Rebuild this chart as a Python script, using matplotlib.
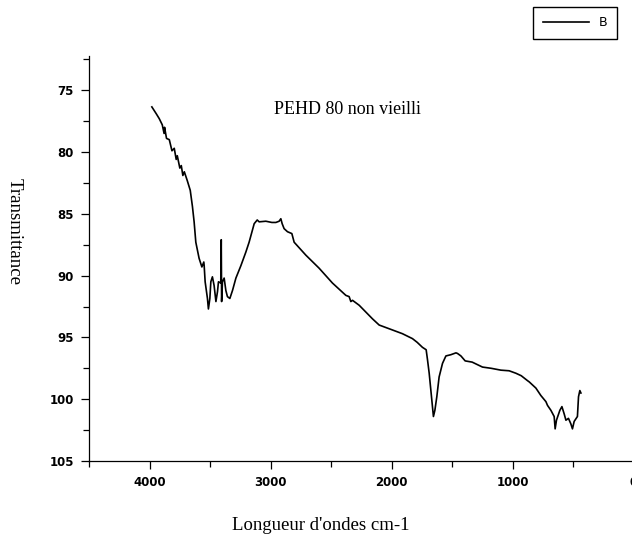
import matplotlib
matplotlib.use("Agg")
import matplotlib.pyplot as plt
from matplotlib.ticker import MultipleLocator

# Wavenumber (cm-1) and transmittance
wavenumber = [3981, 3945, 3920, 3895, 3880, 3876, 3860, 3837, 3815, 3796, 3780, 3771, 3750,
              3738, 3725, 3713, 3689, 3664, 3646, 3632, 3618, 3591, 3568, 3552, 3549,
              3541, 3522, 3514, 3502, 3494, 3481, 3467, 3452, 3439, 3431, 3412, 3408,
              3405, 3398, 3384, 3370, 3357, 3337, 3315, 3287, 3246, 3205, 3178, 3136,
              3111, 3095, 3040, 2990, 2957, 2930, 2916, 2905, 2889, 2861, 2825, 2806,
              2709, 2600, 2490, 2379, 2352, 2338, 2324, 2269, 2159, 2104, 1994, 1912,
              1829, 1790, 1747, 1716, 1705, 1691, 1672, 1656, 1644, 1628, 1609, 1581,
              1553, 1512, 1470, 1457, 1429, 1394, 1336, 1251, 1179, 1099, 1031, 975,
              931, 879, 865, 810, 769, 727, 714, 686, 659, 651, 640, 612, 595, 576, 562,
              541, 521, 508, 494, 467, 458, 447, 438]
transmittance = [76.35, 76.9, 77.3, 77.8, 78.5, 78.0, 78.9, 79.0, 79.9, 79.7, 80.6, 80.3, 81.3,
                 81.1, 81.9, 81.6, 82.3, 83.1, 84.4, 85.65, 87.3, 88.6, 89.3, 88.9, 89.2,
                 90.5, 91.85, 92.7, 91.85, 90.5, 90.1, 90.8, 92.1, 91.3, 90.5, 90.6, 87.1,
                 92.1, 90.5, 90.2, 91.2, 91.7, 91.85, 91.2, 90.2, 89.2, 88.1, 87.3, 85.8,
                 85.5, 85.65, 85.6, 85.7, 85.7, 85.6, 85.4, 85.8, 86.2, 86.45, 86.6, 87.3,
                 88.35, 89.4, 90.6, 91.6, 91.7, 92.1, 92.0, 92.4, 93.5, 94.0, 94.4, 94.7,
                 95.1, 95.4, 95.8, 96.0, 96.8, 97.9, 99.8, 101.4, 100.9, 99.8, 98.2, 97.1,
                 96.5, 96.4, 96.25, 96.3, 96.5, 96.9, 97.0, 97.4, 97.5, 97.65, 97.7, 97.9,
                 98.1, 98.5, 98.6, 99.1, 99.7, 100.2, 100.5, 100.9, 101.4, 102.4, 101.7,
                 100.9, 100.6, 101.2, 101.7, 101.55, 102.0, 102.4, 101.8, 101.4, 99.8,
                 99.3, 99.5]

series_name = "B"
title_text = "PEHD 80 non vieilli"
x_label = "Longueur d'ondes cm-1"
y_label = "Transmittance"
x_ticks = [4000, 3000, 2000, 1000, 0]
y_ticks = [75, 80, 85, 90, 95, 100, 105]

W, H = 632, 536
fig = plt.figure(figsize=(W / 100, H / 100), dpi=100)
ax = fig.add_axes([89 / W, (H - 461) / H, (636.4 - 89) / W, (461 - 55.6) / H])

line, = ax.plot(wavenumber, transmittance, color="black", lw=1.2, label=series_name)

ax.set_xlim(4500, -20)
ax.set_ylim(105, 72.2)
ax.set_xticks(x_ticks)
ax.set_yticks(y_ticks)
ax.xaxis.set_minor_locator(MultipleLocator(500))
ax.yaxis.set_minor_locator(MultipleLocator(2.5))

for s in ["top", "right"]:
    ax.spines[s].set_visible(False)
for s in ["left", "bottom"]:
    ax.spines[s].set_linewidth(0.9)

ax.tick_params(which="major", direction="out", length=6, width=0.9, pad=5)
ax.tick_params(which="minor", direction="out", length=4, width=0.9)
for lab in ax.get_xticklabels() + ax.get_yticklabels():
    lab.set_fontfamily("DejaVu Sans")
    lab.set_fontweight("bold")
    lab.set_fontsize(8.5)

fig.text(347 / W, 1 - 110 / H, title_text, family="Liberation Serif", fontsize=13,
         ha="center", va="center")
fig.text(321 / W, 1 - 526 / H, x_label, family="Liberation Serif", fontsize=13.5,
         ha="center", va="center")
fig.text(14 / W, 1 - 232 / H, y_label, family="Liberation Serif", fontsize=13.5,
         ha="center", va="center", rotation=-90)

leg = fig.legend(handles=[line], loc="upper right",
                 bbox_to_anchor=(617 / W, 1 - 7 / H), borderaxespad=0,
                 prop={"family": "DejaVu Sans", "size": 9},
                 handlelength=3.7, borderpad=0.75, handletextpad=0.8,
                 fancybox=False, framealpha=1, edgecolor="black")
leg.get_frame().set_linewidth(1.0)

fig.savefig("out.png", dpi=100)
